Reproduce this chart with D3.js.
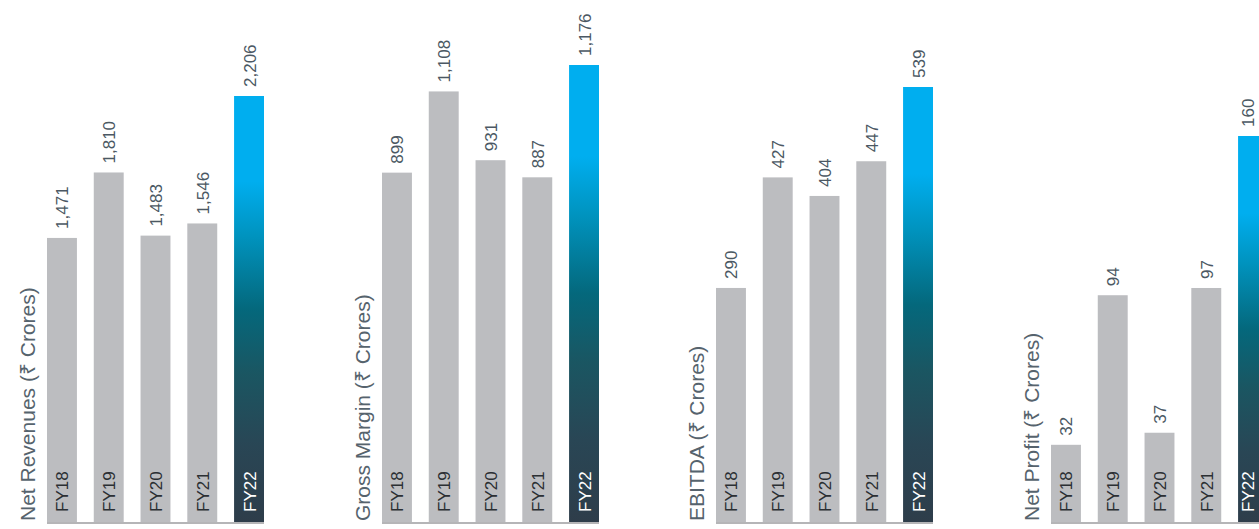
<!DOCTYPE html>
<html>
<head>
<meta charset="utf-8">
<script src="https://cdn.jsdelivr.net/npm/d3@7/dist/d3.min.js"></script>
<style>
  html, body { margin: 0; padding: 0; background: #ffffff; }
  svg { display: block; font-family: "Liberation Sans", Arial, Helvetica, sans-serif; }
</style>
</head>
<body>
<svg id="chart" width="1259" height="529"></svg>
<script>
const categories = ["FY18", "FY19", "FY20", "FY21", "FY22"];
const netRevenues = [1471, 1810, 1483, 1546, 2206];
const grossMargin = [899, 1108, 931, 887, 1176];
const ebitda = [290, 427, 404, 447, 539];
const netProfit = [32, 94, 37, 97, 160];
const panelTitles = ["Net Revenues (₹ Crores)", "Gross Margin (₹ Crores)", "EBITDA (₹ Crores)", "Net Profit (₹ Crores)"];
const panelSeries = [netRevenues, grossMargin, ebitda, netProfit];

// layout
const W = 1259, H = 529;
const baseY = 522;
const panelX0 = [47, 382, 716, 1051];
const panelW = 217;
const panelTop = [96, 65, 87, 136];

const svg = d3.select("#chart");
const defs = svg.append("defs");
const grad = defs.append("linearGradient")
  .attr("id", "hl").attr("x1", 0).attr("y1", 0).attr("x2", 0).attr("y2", 1);
[[0, "#00AEEF"], [0.2, "#00AEEF"], [0.33, "#0093BE"], [0.5, "#04687C"], [0.65, "#1A5662"], [0.82, "#294655"], [1, "#2E3D4A"]]
  .forEach(([o, c]) => grad.append("stop").attr("offset", o).attr("stop-color", c));

const fmt = d3.format(",");

panelSeries.forEach((vals, p) => {
  const g = svg.append("g");
  const x = d3.scaleBand().domain(categories)
    .range([panelX0[p], panelX0[p] + panelW])
    .paddingInner(0.36).paddingOuter(0).align(0);
  const y = d3.scaleLinear().domain([0, d3.max(vals)]).range([baseY, panelTop[p]]);
  const data = categories.map((c, i) => ({ c, v: vals[i], hl: i === categories.length - 1 }));
  const cx = d => Math.min(x(d.c) + x.bandwidth() / 2, W - 11);

  g.selectAll("rect.bar").data(data).join("rect")
    .attr("class", "bar")
    .attr("x", d => x(d.c))
    .attr("y", d => y(d.v))
    .attr("width", x.bandwidth())
    .attr("height", d => baseY - y(d.v))
    .attr("fill", d => d.hl ? "url(#hl)" : "#BCBDC0");

  // baseline
  g.append("line")
    .attr("x1", panelX0[p]).attr("x2", panelX0[p] + panelW)
    .attr("y1", baseY + 1).attr("y2", baseY + 1)
    .attr("stroke", "#B5B5B7").attr("stroke-width", 2);

  // value labels
  g.selectAll("text.val").data(data).join("text")
    .attr("class", "val")
    .attr("transform", d => `translate(${cx(d)},${y(d.v) - 9}) rotate(-90)`)
    .attr("dy", "0.38em")
    .attr("font-size", 17)
    .attr("fill", "#4B5863")
    .text(d => fmt(d.v));

  // category labels inside bars
  g.selectAll("text.cat").data(data).join("text")
    .attr("class", "cat")
    .attr("transform", d => `translate(${cx(d)},${baseY - 10}) rotate(-90)`)
    .attr("dy", "0.38em")
    .attr("font-size", 17)
    .attr("fill", d => d.hl ? "#FFFFFF" : "#2B2F33")
    .text(d => d.c);

  // panel title (rotated axis title)
  g.append("text")
    .attr("transform", `translate(${panelX0[p] - 12},${baseY - 1}) rotate(-90)`)
    .attr("font-size", 21)
    .attr("fill", "#56636D")
    .text(panelTitles[p]);
});
</script>
</body>
</html>
